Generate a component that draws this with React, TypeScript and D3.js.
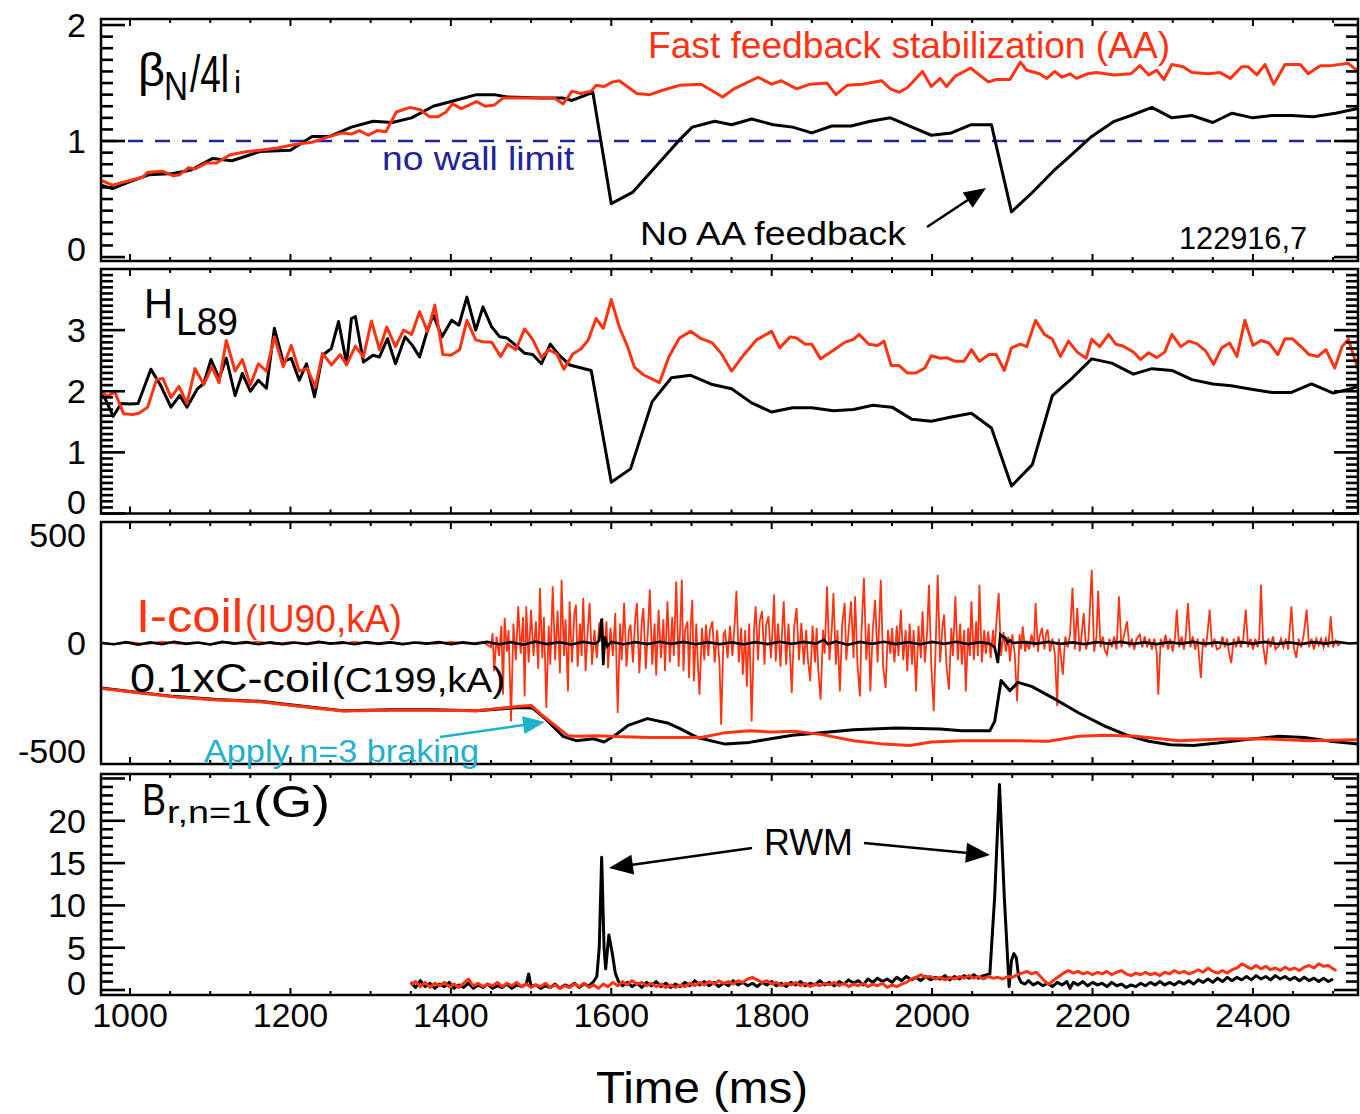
import React from 'react';
import * as d3 from 'd3';

// ---------------- DATA ----------------
// Panel 1: beta_N / 4 l_i
const betaNoAA: [number, number][] = [[964,0.62],[978,0.59],[1000,0.65],[1024,0.71],[1054,0.72],[1076,0.75],[1103,0.85],[1127,0.83],[1162,0.91],[1200,0.92],[1227,1.04],[1249,1.04],[1276,1.12],[1303,1.17],[1327,1.16],[1351,1.2],[1378,1.3],[1405,1.35],[1432,1.4],[1454,1.4],[1470,1.38],[1513,1.37],[1540,1.37],[1551,1.35],[1577,1.42],[1600,0.46],[1627,0.56],[1685,1.01],[1701,1.12],[1729,1.17],[1750,1.14],[1775,1.19],[1802,1.14],[1826,1.12],[1850,1.07],[1875,1.13],[1899,1.13],[1923,1.17],[1948,1.2],[1975,1.12],[1999,1.05],[2024,1.07],[2048,1.14],[2074,1.14],[2099,0.39],[2124,0.55],[2151,0.74],[2175,0.89],[2199,1.04],[2227,1.17],[2248,1.22],[2274,1.29],[2299,1.2],[2324,1.22],[2350,1.16],[2374,1.24],[2400,1.2],[2424,1.22],[2448,1.22],[2475,1.21],[2503,1.24],[2531,1.28]];
const betaAA: [number, number][] = [[964,0.66],[978,0.62],[1000,0.66],[1016,0.69],[1022,0.73],[1040,0.74],[1054,0.7],[1062,0.71],[1073,0.77],[1081,0.76],[1095,0.81],[1108,0.81],[1124,0.88],[1146,0.91],[1162,0.92],[1184,0.94],[1205,0.97],[1227,0.99],[1249,1.04],[1265,1.07],[1276,1.06],[1286,1.09],[1297,1.05],[1308,1.09],[1319,1.08],[1332,1.25],[1349,1.29],[1362,1.27],[1373,1.21],[1384,1.21],[1394,1.25],[1402,1.32],[1413,1.28],[1432,1.34],[1443,1.3],[1454,1.31],[1465,1.37],[1486,1.37],[1513,1.37],[1529,1.37],[1540,1.32],[1551,1.43],[1562,1.41],[1575,1.43],[1581,1.48],[1591,1.47],[1602,1.51],[1610,1.52],[1632,1.41],[1648,1.4],[1665,1.44],[1685,1.48],[1712,1.49],[1739,1.38],[1753,1.45],[1783,1.55],[1800,1.49],[1812,1.52],[1831,1.45],[1848,1.49],[1869,1.5],[1880,1.4],[1894,1.48],[1913,1.49],[1937,1.52],[1948,1.45],[1959,1.42],[1969,1.46],[1988,1.6],[1999,1.47],[2010,1.54],[2018,1.47],[2029,1.56],[2048,1.63],[2070,1.51],[2080,1.53],[2097,1.53],[2110,1.68],[2118,1.61],[2134,1.58],[2143,1.54],[2153,1.6],[2162,1.55],[2172,1.58],[2180,1.54],[2194,1.58],[2205,1.59],[2227,1.57],[2248,1.58],[2259,1.65],[2270,1.57],[2280,1.61],[2289,1.53],[2299,1.66],[2313,1.64],[2324,1.59],[2345,1.58],[2359,1.59],[2372,1.54],[2386,1.64],[2394,1.64],[2405,1.57],[2415,1.66],[2426,1.49],[2440,1.66],[2459,1.66],[2469,1.58],[2484,1.65],[2497,1.65],[2519,1.67],[2531,1.6]];
const noWallLimit = 1;

// Panel 2: H_L89
const hNoAA: [number, number][] = [[964,1.99],[970,1.85],[979,1.59],[989,1.8],[1000,1.79],[1010,1.8],[1026,2.36],[1038,2.1],[1051,1.74],[1062,1.93],[1071,1.74],[1084,2.04],[1092,2.13],[1101,2.52],[1111,2.21],[1120,2.54],[1131,1.93],[1140,2.29],[1150,2.0],[1160,2.18],[1170,2.05],[1180,3.03],[1191,2.48],[1201,2.54],[1211,2.18],[1220,2.45],[1230,1.91],[1240,2.59],[1251,2.7],[1260,3.14],[1270,2.45],[1276,3.19],[1281,3.22],[1291,2.48],[1303,2.59],[1311,2.56],[1321,2.86],[1331,2.45],[1343,2.89],[1352,2.75],[1361,2.56],[1370,2.96],[1378,3.25],[1389,2.89],[1401,3.16],[1410,3.08],[1420,3.54],[1431,3.0],[1440,3.38],[1451,3.05],[1461,2.89],[1470,2.87],[1481,2.75],[1492,2.62],[1502,2.6],[1513,2.45],[1524,2.77],[1535,2.59],[1548,2.43],[1575,2.34],[1600,0.51],[1624,0.73],[1651,1.83],[1675,2.22],[1699,2.26],[1726,2.11],[1750,2.04],[1775,1.81],[1800,1.66],[1826,1.73],[1850,1.73],[1877,1.68],[1902,1.7],[1926,1.77],[1950,1.74],[1975,1.54],[1999,1.51],[2024,1.58],[2049,1.64],[2074,1.4],[2099,0.45],[2125,0.8],[2150,1.93],[2175,2.22],[2199,2.53],[2224,2.46],[2251,2.28],[2274,2.37],[2299,2.34],[2324,2.19],[2350,2.12],[2373,2.09],[2400,2.03],[2424,1.98],[2448,1.98],[2473,2.12],[2500,1.97],[2522,2.04],[2531,2.08]];
const hAA: [number, number][] = [[964,1.99],[972,1.92],[981,1.99],[992,1.63],[1003,1.62],[1011,1.64],[1022,1.74],[1033,2.19],[1041,2.21],[1051,1.9],[1061,2.08],[1071,1.8],[1081,2.37],[1092,2.11],[1102,2.4],[1111,2.14],[1120,2.83],[1131,2.33],[1140,2.52],[1150,2.1],[1160,2.45],[1170,2.33],[1180,2.89],[1191,2.4],[1201,2.75],[1211,2.33],[1221,2.37],[1231,2.07],[1240,2.62],[1251,2.43],[1262,2.6],[1270,2.43],[1281,2.74],[1291,2.56],[1301,3.15],[1311,2.68],[1320,3.05],[1331,2.73],[1341,3.0],[1351,2.93],[1361,3.3],[1371,2.97],[1380,3.41],[1390,2.6],[1400,2.59],[1411,2.68],[1420,3.16],[1431,2.84],[1440,2.81],[1451,2.8],[1462,2.57],[1471,2.77],[1481,2.68],[1492,3.02],[1502,2.85],[1513,2.55],[1522,2.68],[1532,2.61],[1541,2.36],[1552,2.61],[1562,2.69],[1571,2.83],[1581,3.19],[1590,3.03],[1600,3.5],[1610,3.05],[1620,2.74],[1629,2.39],[1640,2.27],[1660,2.14],[1672,2.57],[1685,2.87],[1699,2.98],[1712,2.86],[1726,2.79],[1737,2.62],[1750,2.33],[1766,2.61],[1781,2.84],[1800,2.98],[1810,2.71],[1823,2.89],[1831,2.87],[1842,2.77],[1850,2.77],[1861,2.53],[1877,2.67],[1891,2.8],[1902,2.85],[1909,2.93],[1921,2.77],[1932,2.75],[1940,2.82],[1949,2.42],[1959,2.42],[1969,2.3],[1980,2.3],[1991,2.38],[1999,2.58],[2010,2.54],[2018,2.55],[2029,2.49],[2040,2.49],[2049,2.68],[2059,2.49],[2071,2.6],[2080,2.6],[2090,2.34],[2099,2.71],[2110,2.77],[2118,2.73],[2129,3.16],[2140,2.93],[2150,2.85],[2160,2.57],[2170,2.82],[2181,2.64],[2192,2.54],[2199,2.85],[2209,2.73],[2220,2.93],[2229,2.77],[2238,2.74],[2251,2.64],[2260,2.52],[2270,2.63],[2280,2.55],[2290,2.64],[2299,2.93],[2310,2.73],[2320,2.82],[2330,2.78],[2341,2.66],[2351,2.44],[2361,2.71],[2371,2.79],[2380,2.57],[2390,3.16],[2400,2.75],[2410,2.83],[2420,2.79],[2431,2.6],[2440,2.86],[2449,2.86],[2460,2.73],[2470,2.6],[2481,2.57],[2491,2.68],[2502,2.38],[2511,2.73],[2519,2.85],[2531,2.36]];

// Panel 3: I-coil (IU90, kA) and 0.1 x C-coil (C199, kA)
const iCoilAA: [number, number][] = [[964,0],[980,-6],[1000,4],[1020,-5],[1040,6],[1060,-4],[1080,3],[1100,-7],[1120,5],[1140,-3],[1160,6],[1180,-5],[1200,4],[1220,-6],[1240,3],[1260,-4],[1280,5],[1300,-3],[1320,4],[1340,-5],[1360,3],[1380,-4],[1400,5],[1420,-3],[1440,4],
[1450,-20],[1452,46],[1454,-131],[1457,30],[1460,-60],[1463,80],[1465,-239],[1467,116],[1470,-40],[1472,60],[1475,-363],[1478,90],[1481,-80],[1484,170],[1487,-50],[1490,120],[1492,-247],[1494,170],[1497,-90],[1500,154],[1503,-60],[1506,100],[1509,-120],[1511,255],[1514,-70],[1516,120],[1519,-301],[1522,80],[1524,-100],[1527,262],[1530,-80],[1533,150],[1536,-140],[1538,293],[1541,-60],[1543,110],[1546,-224],[1548,193],[1551,-90],[1554,140],[1556,177],[1558,-110],[1561,90],[1563,-60],[1565,208],[1568,-130],[1571,80],[1573,185],[1576,-100],[1579,60],[1582,-70],[1585,90],[1589,108],[1591,-50],[1594,100],[1596,-116],[1599,70],[1602,-60],[1605,139],[1608,-324],[1611,90],[1613,-80],[1616,185],[1619,-110],[1622,60],[1624,85],[1627,-90],[1630,120],[1632,185],[1635,-140],[1638,100],[1640,162],[1643,-120],[1646,80],[1648,247],[1651,-100],[1654,90],[1656,-150],[1659,154],[1662,-70],[1665,110],[1667,-130],[1670,193],[1673,-90],[1676,120],[1678,-60],[1681,285],[1684,-110],[1686,80],
[1688,293],[1690,-131],[1692,60],[1695,100],[1697,-162],[1699,80],[1701,200],[1703,-177],[1706,90],[1708,-100],[1710,-239],[1713,70],[1716,-80],[1718,85],[1721,-60],[1723,60],[1726,100],[1729,-90],[1732,60],[1735,-100],[1737,-378],[1740,40],[1742,54],[1745,-70],[1748,80],[1751,-60],[1754,100],[1756,242],[1759,-90],[1762,70],[1764,-147],[1767,60],[1769,-201],[1772,90],[1775,-363],[1778,60],[1780,170],[1783,-80],[1785,100],[1788,147],[1791,-100],[1793,80],[1796,123],[1799,-70],[1801,60],[1803,224],[1805,-85],[1808,90],[1811,-110],[1813,60],[1815,193],[1818,-100],[1821,90],[1823,-60],[1825,-231],[1828,70],[1831,162],[1834,-80],[1837,93],[1840,-100],[1843,60],[1845,-70],[1848,-177],[1851,80],[1854,-90],[1856,70],[1858,-120],[1861,-262],[1864,60],[1866,-50],[1869,262],[1872,-80],[1875,70],[1877,231],[1880,-100],[1882,60],[1885,-224],[1888,90],[1891,185],[1893,-80],[1896,60],[1899,193],[1902,-70],[1904,216],[1907,-100],[1910,-247],[1912,60],[1915,301],[1918,-80],[1921,90],[1923,-224],[1926,60],[1929,200],[1932,-90],[1934,80],[1936,293],[1939,-110],[1942,-208],[1945,60],[1948,-50],[1950,69],[1953,-90],[1956,80],[1958,-60],[1961,154],[1964,-80],[1967,60],[1969,-131],[1972,90],[1975,-100],[1977,60],[1980,-224],[1983,80],[1986,-70],[1988,147],[1991,-90],[1994,60],[1996,270],[1999,-100],[2002,-316],[2005,60],[2007,316],[2010,-90],[2013,80],[2015,131],[2018,-110],[2021,-216],[2024,70],[2026,-60],[2029,216],[2032,-80],[2035,90],[2037,-100],[2040,60],[2042,-224],[2045,70],[2047,-60],[2049,193],[2052,-80],[2055,100],[2057,-60],[2059,270],[2062,-90],[2065,60],[2067,-50],[2070,54],[2073,-70],[2076,60],[2078,-40],[2080,90],[2083,231],[2086,-60],[2089,50],[2092,-40],[2095,30],[2097,-85],[2100,40],[2103,-50],[2106,-270],[2109,40],[2111,-30],[2113,77],[2116,-40],[2118,10],[2121,-30],[2124,40],[2127,-20],[2129,185],[2132,-40],[2134,30],[2137,69],[2140,-30],[2142,40],[2144,62],[2147,-40],[2150,20],[2153,-50],[2156,-293],[2158,20],[2160,-40],[2163,-147],[2166,30],[2169,-20],[2172,40],[2175,255],[2178,-30],[2181,162],[2184,-40],[2186,20],[2189,139],[2192,-30],[2195,20],[2199,339],[2202,-40],[2205,30],[2207,242],[2210,-20],[2213,30],[2215,-30],[2218,-54],[2221,20],[2224,-20],[2227,30],[2230,-30],[2233,216],[2236,-20],[2239,30],[2243,100],[2246,-20],[2249,20],[2252,-30],[2255,20],[2259,39],[2262,-20],[2265,30],[2268,-20],[2271,20],[2274,-30],[2277,20],[2280,-40],[2282,-239],[2285,20],[2288,-20],[2291,39],[2294,-30],[2297,20],[2300,-40],[2303,30],[2305,154],[2308,-20],[2311,30],[2314,-30],[2316,20],[2319,185],[2322,-20],[2325,30],[2328,-30],[2331,20],[2335,-162],[2338,20],[2341,-20],[2343,30],[2346,154],[2349,-20],[2352,20],[2355,-30],[2359,-23],[2362,30],[2365,-20],[2368,20],[2370,-40],[2373,-93],[2376,20],[2379,-20],[2382,30],[2385,-20],[2388,20],[2391,154],[2394,-20],[2397,20],[2400,-30],[2403,20],[2406,-20],[2408,30],[2410,270],[2413,-20],[2416,-100],[2419,20],[2422,-20],[2425,30],[2428,-30],[2432,-15],[2435,20],[2438,-20],[2441,20],[2444,-30],[2448,170],[2451,-20],[2454,-69],[2457,20],[2460,-20],[2463,30],[2467,154],[2470,-20],[2473,20],[2476,-30],[2479,20],[2482,-10],[2485,20],[2488,-20],[2491,20],[2494,-20],[2497,123],[2500,-20],[2503,10],[2506,-10],[2510,0]];
const iCoilNoAA: [number, number][] = [[964,0],[980,-6],[995,4],[1010,-8],[1025,3],[1040,-5],[1055,6],[1070,-4],[1085,2],[1100,-7],[1115,5],[1130,-3],[1145,4],[1160,-6],[1175,3],[1190,-5],[1205,2],[1220,-4],[1235,5],[1250,-3],[1265,3],[1280,-6],[1295,4],[1310,-4],[1325,3],[1340,-5],[1355,2],[1370,-3],[1385,4],[1400,-5],[1415,3],[1430,-4],[1445,5],[1460,-6],[1475,4],[1490,-8],[1505,6],[1520,-5],[1535,4],[1550,-7],[1565,5],[1580,-4],[1585,10],[1588,113],[1590,-103],[1592,30],[1595,-15],[1600,5],[1615,-6],[1630,4],[1645,-5],[1660,6],[1675,-4],[1690,5],[1705,-6],[1720,4],[1735,-5],[1750,3],[1765,-6],[1780,4],[1795,-5],[1810,6],[1825,-4],[1840,5],[1855,-3],[1865,15],[1870,-5],[1880,6],[1895,-8],[1910,5],[1925,-4],[1940,6],[1955,-5],[1970,4],[1985,-6],[2000,5],[2015,-4],[2030,6],[2045,-5],[2060,4],[2072,-3],[2078,-20],[2082,-93],[2085,39],[2088,30],[2091,25],[2094,2],[2097,12],[2100,0],[2115,4],[2130,-3],[2145,5],[2160,-4],[2175,3],[2190,-5],[2205,4],[2220,-3],[2235,5],[2250,-4],[2265,3],[2280,-5],[2295,4],[2310,-3],[2325,5],[2340,-4],[2355,3],[2370,-5],[2385,4],[2400,-3],[2415,5],[2430,-4],[2445,3],[2460,-5],[2475,4],[2490,-3],[2505,5],[2520,-2],[2531,0]];
const cCoilNoAA: [number, number][] = [[964,-208],[1000,-224],[1054,-247],[1108,-262],[1162,-270],[1216,-293],[1265,-313],[1324,-309],[1378,-309],[1432,-313],[1486,-298],[1502,-301],[1519,-355],[1540,-432],[1556,-452],[1578,-443],[1591,-458],[1605,-427],[1621,-381],[1645,-350],[1670,-370],[1685,-395],[1707,-437],[1742,-468],[1772,-460],[1799,-443],[1826,-427],[1858,-417],[1902,-401],[1956,-393],[2010,-398],[2037,-406],[2072,-406],[2078,-363],[2086,-174],[2097,-221],[2107,-182],[2124,-201],[2151,-255],[2183,-324],[2216,-386],[2243,-427],[2270,-455],[2297,-471],[2326,-474],[2356,-463],[2389,-448],[2432,-432],[2464,-437],[2497,-455],[2531,-468]];
const cCoilAA: [number, number][] = [[964,-210],[1000,-226],[1054,-249],[1108,-264],[1162,-272],[1216,-295],[1265,-315],[1324,-311],[1378,-311],[1432,-314],[1486,-293],[1500,-289],[1513,-332],[1546,-429],[1556,-432],[1583,-429],[1605,-433],[1648,-437],[1685,-437],[1712,-437],[1739,-417],[1772,-406],[1799,-412],[1831,-409],[1863,-424],[1902,-452],[1940,-468],[1972,-474],[1999,-458],[2037,-452],[2091,-452],[2145,-455],[2183,-432],[2216,-427],[2254,-432],[2308,-452],[2362,-444],[2416,-443],[2470,-452],[2531,-448]];

// Panel 4: B_r, n=1 (G)
const brNoAA: [number, number][] = [[1350,0.9],[1356,0.3],[1362,1.1],[1368,0.4],[1374,0.8],[1380,0.2],[1386,0.7],[1392,0.4],[1398,0.9],[1404,0.2],[1410,0.6],[1416,0.3],[1422,0.8],[1428,0.2],[1434,0.6],[1440,0.3],[1446,0.7],[1452,0.2],[1458,0.5],[1464,0.3],[1470,0.7],[1476,0.2],[1482,0.6],[1488,0.4],[1494,0.7],[1497,1.9],[1500,0.4],[1506,0.6],[1512,0.2],[1518,0.5],[1524,0.3],[1530,0.7],[1536,0.2],[1542,0.6],[1548,0.4],[1554,0.8],[1560,0.3],[1566,0.7],[1572,0.5],[1578,1.0],[1582,1.6],[1585,5],[1588,15.7],[1591,5],[1593,2.5],[1597,6.5],[1601,4.5],[1605,2],[1609,1.0],[1614,0.5],[1620,0.9],[1626,0.4],[1632,0.8],[1638,0.3],[1644,0.9],[1650,0.5],[1656,1.0],[1662,0.4],[1668,0.8],[1674,0.3],[1680,0.7],[1686,0.4],[1692,0.9],[1698,0.5],[1704,1.1],[1710,0.6],[1716,1.0],[1722,0.5],[1728,0.9],[1734,0.4],[1740,0.8],[1746,0.5],[1752,1.1],[1758,0.6],[1764,0.9],[1770,0.5],[1776,0.8],[1782,0.4],[1788,0.9],[1794,0.6],[1800,1.0],[1806,0.5],[1812,0.8],[1818,0.4],[1824,0.9],[1830,0.6],[1836,1.0],[1842,0.5],[1848,0.8],[1854,0.6],[1860,1.1],[1866,0.6],[1872,0.9],[1878,0.5],[1884,1.0],[1890,0.7],[1896,1.2],[1902,0.8],[1908,1.1],[1914,0.6],[1920,1.3],[1926,0.9],[1932,1.4],[1938,1.0],[1944,1.3],[1950,0.9],[1956,1.5],[1962,1.1],[1968,1.6],[1974,1.2],[1980,1.5],[1986,1.1],[1992,1.6],[1998,1.2],[2004,1.5],[2010,1.3],[2016,1.7],[2022,1.2],[2028,1.6],[2034,1.3],[2040,1.7],[2046,1.4],[2052,1.8],[2058,1.4],[2064,1.7],[2072,1.9],[2078,11],[2084,24.3],[2090,11],[2096,0.4],[2099,3.5],[2102,4.3],[2105,3.8],[2108,1.5],[2111,0.9],[2116,0.7],[2120,1.1],[2126,0.6],[2132,0.9],[2138,0.5],[2144,0.8],[2150,0.4],[2156,0.9],[2162,0.6],[2168,1.0],[2172,0.2],[2176,0.9],[2182,0.6],[2188,1.0],[2194,0.5],[2200,0.9],[2206,0.6],[2212,0.8],[2218,0.4],[2224,0.9],[2230,0.5],[2236,0.7],[2242,0.3],[2248,0.6],[2254,0.4],[2260,0.8],[2266,0.5],[2272,0.9],[2278,0.6],[2284,1.0],[2290,0.6],[2296,0.9],[2302,0.6],[2308,1.0],[2314,0.7],[2320,1.1],[2326,0.7],[2332,1.2],[2338,0.9],[2344,1.3],[2350,0.9],[2356,1.4],[2362,1.0],[2368,1.5],[2374,1.1],[2380,1.5],[2386,1.2],[2392,1.6],[2398,1.2],[2404,1.7],[2410,1.3],[2416,1.6],[2422,1.2],[2428,1.7],[2434,1.3],[2440,1.6],[2446,1.2],[2452,1.5],[2458,1.1],[2464,1.5],[2470,1.1],[2476,1.4],[2482,1.0],[2488,1.4],[2494,1.0],[2500,1.3]];
const brAA: [number, number][] = [[1350,0.6],[1356,1.0],[1362,0.4],[1368,0.9],[1374,0.3],[1380,0.8],[1386,0.5],[1392,0.9],[1398,0.4],[1404,0.7],[1410,0.3],[1416,0.8],[1422,1.3],[1428,0.5],[1434,0.8],[1440,0.4],[1446,0.7],[1452,0.5],[1458,0.9],[1464,0.4],[1470,0.8],[1476,0.5],[1482,0.9],[1488,0.4],[1494,0.7],[1500,0.3],[1506,0.6],[1512,0.4],[1518,0.8],[1524,0.3],[1530,0.6],[1536,0.2],[1542,0.5],[1548,0.3],[1554,0.7],[1560,0.4],[1566,0.8],[1572,0.3],[1578,0.6],[1584,0.2],[1590,0.7],[1596,0.4],[1602,0.9],[1608,0.5],[1614,1.0],[1620,0.6],[1626,1.1],[1632,0.7],[1638,0.9],[1644,0.5],[1650,0.8],[1656,0.4],[1662,0.7],[1668,0.3],[1674,0.6],[1680,0.3],[1686,0.6],[1692,0.4],[1698,0.8],[1704,0.5],[1710,0.9],[1716,0.6],[1722,1.0],[1728,0.7],[1734,1.1],[1740,0.8],[1746,1.0],[1752,0.7],[1758,1.1],[1764,0.9],[1770,1.3],[1776,1.5],[1782,1.2],[1788,0.9],[1794,1.1],[1800,0.7],[1806,0.9],[1812,0.5],[1818,0.8],[1824,0.6],[1830,0.9],[1836,0.5],[1842,0.8],[1848,0.4],[1854,0.7],[1860,0.5],[1866,0.8],[1872,0.6],[1878,0.9],[1884,0.5],[1890,0.8],[1896,0.4],[1902,0.7],[1908,0.5],[1914,0.8],[1920,0.4],[1926,0.7],[1932,0.5],[1938,0.8],[1944,0.3],[1950,0.6],[1956,0.4],[1962,0.7],[1968,0.9],[1974,1.3],[1980,1.5],[1986,1.8],[1992,1.5],[1998,1.6],[2004,1.3],[2010,1.5],[2016,1.2],[2022,1.5],[2028,1.3],[2034,1.6],[2040,1.4],[2046,1.7],[2052,1.4],[2058,1.6],[2064,1.3],[2070,1.6],[2076,1.4],[2082,1.5],[2088,1.3],[2094,1.6],[2100,1.5],[2106,1.8],[2112,2.0],[2118,2.2],[2124,1.9],[2130,2.1],[2136,1.5],[2142,0.9],[2146,0.7],[2152,1.2],[2158,1.6],[2164,2.0],[2170,2.3],[2176,2.0],[2182,2.2],[2188,1.9],[2194,2.1],[2200,1.8],[2206,2.1],[2212,1.9],[2218,2.2],[2224,1.8],[2230,2.1],[2236,2.3],[2242,1.9],[2248,1.7],[2254,2.0],[2260,1.8],[2266,2.1],[2272,1.8],[2278,2.0],[2284,1.7],[2290,2.1],[2296,1.9],[2302,2.3],[2308,2.0],[2314,2.2],[2320,1.9],[2326,2.1],[2332,2.4],[2338,2.1],[2344,2.6],[2350,2.2],[2356,2.0],[2362,2.3],[2368,2.0],[2374,2.4],[2380,2.6],[2386,3.1],[2392,2.8],[2398,2.5],[2404,2.9],[2410,2.5],[2416,2.8],[2422,2.4],[2428,2.6],[2434,2.3],[2440,2.7],[2446,2.4],[2452,2.6],[2458,2.3],[2464,2.7],[2470,2.9],[2476,2.6],[2482,3.1],[2488,2.8],[2494,2.9],[2500,2.5],[2504,2.3]];

// Tick labels
const xTickLabels = [1000, 1200, 1400, 1600, 1800, 2000, 2200, 2400];
const p1Labels = [0, 1, 2];
const p2Labels = [0, 1, 2, 3];
const p3Labels = [-500, 0, 500];
const p4Labels = [0, 5, 10, 15, 20];

// ---------------- LAYOUT / STYLE ----------------
const W = 1360, H = 1114;
const FONT = "'Liberation Sans', Arial, Helvetica, sans-serif";
const RED = '#ff3311';
const NAVY = '#22229a';
const CYAN = '#1eb0cc';
const X_LEFT = 101, X_RIGHT = 1358;
const x = d3.scaleLinear().domain([963.8, 2531]).range([X_LEFT, X_RIGHT]);

type Panel = {
  id: string; top: number; bottom: number; domain: [number, number];
  labels: number[]; minor: number; major: number; tMin: number; tMax: number; yTicks: boolean;
};
const panels: Panel[] = [
  { id: 'p1', top: 19, bottom: 261, domain: [-0.034, 2.052], labels: p1Labels, minor: 0.1, major: 1, tMin: 0, tMax: 2, yTicks: true },
  { id: 'p2', top: 269, bottom: 513.5, domain: [0, 4.0], labels: p2Labels, minor: 0.1, major: 1, tMin: 0, tMax: 4, yTicks: true },
  { id: 'p3', top: 522, bottom: 764, domain: [-560, 560], labels: p3Labels, minor: 100, major: 500, tMin: -500, tMax: 500, yTicks: false },
  { id: 'p4', top: 774, bottom: 995, domain: [-0.59, 25.53], labels: p4Labels, minor: 1, major: 5, tMin: 0, tMax: 25, yTicks: true },
];
const yScale = (p: Panel) => d3.scaleLinear().domain(p.domain).range([p.bottom, p.top]);

const lineGen = (ys: d3.ScaleLinear<number, number>) =>
  d3.line<[number, number]>().x((d) => x(d[0])).y((d) => ys(d[1]));

function Arrow({ x1, y1, x2, y2, color, len = 22, half = 9, sw = 2.5 }:
  { x1: number; y1: number; x2: number; y2: number; color: string; len?: number; half?: number; sw?: number }) {
  const dx = x2 - x1, dy = y2 - y1;
  const L = Math.hypot(dx, dy);
  const ux = dx / L, uy = dy / L;
  const bx = x2 - ux * len, by = y2 - uy * len;
  const px = -uy, py = ux;
  const pts = `${x2},${y2} ${bx + px * half},${by + py * half} ${bx - px * half},${by - py * half}`;
  return (
    <g>
      <line x1={x1} y1={y1} x2={bx + ux * 2} y2={by + uy * 2} stroke={color} strokeWidth={sw} />
      <polygon points={pts} fill={color} />
    </g>
  );
}

function PanelFrame({ p }: { p: Panel }) {
  const ys = yScale(p);
  const xt = d3.range(1000, 2501, 50);
  const yt = p.yTicks ? d3.range(p.tMin, p.tMax + p.minor / 2, p.minor) : [];
  const isMajorY = (v: number) => Math.abs(v / p.major - Math.round(v / p.major)) < 1e-6;
  return (
    <g>
      {xt.map((t) => {
        const major = t % 200 === 0;
        const len = major ? 7 : 4;
        return (
          <g key={`xt${t}`}>
            <line x1={x(t)} x2={x(t)} y1={p.top} y2={p.top + len} stroke="#000" strokeWidth={2} />
            <line x1={x(t)} x2={x(t)} y1={p.bottom} y2={p.bottom - len} stroke="#000" strokeWidth={2} />
          </g>
        );
      })}
      {yt.map((v, i) => {
        const major = isMajorY(v);
        const len = major ? 24 : 12;
        const yy = ys(v);
        if (yy < p.top + 1 || yy > p.bottom) return null;
        return (
          <g key={`yt${i}`}>
            <line x1={X_LEFT} x2={X_LEFT + len} y1={yy} y2={yy} stroke="#000" strokeWidth={2.6} />
            <line x1={X_RIGHT} x2={X_RIGHT - len} y1={yy} y2={yy} stroke="#000" strokeWidth={2.6} />
          </g>
        );
      })}
      <rect x={X_LEFT} y={p.top} width={X_RIGHT - X_LEFT} height={p.bottom - p.top} fill="none" stroke="#000" strokeWidth={2.5} />
      {p.labels.map((v) => (
        <text key={`yl${v}`} x={86} y={Math.min(ys(v), p.bottom - 12) + 12} fontSize={34} textAnchor="end" fontFamily={FONT}>
          {v}
        </text>
      ))}
    </g>
  );
}

export default function App() {
  const [p1, p2, p3, p4] = panels;
  const y1 = yScale(p1), y2 = yScale(p2), y3 = yScale(p3), y4 = yScale(p4);
  return (
    <svg width={W} height={H} viewBox={`0 0 ${W} ${H}`} style={{ position: 'absolute', left: 0, top: 0, background: '#fff' }} fontFamily={FONT}>
      <rect x={0} y={0} width={W} height={H} fill="#fff" />
      <defs>
        {panels.map((p) => (
          <clipPath id={`clip-${p.id}`} key={p.id}>
            <rect x={X_LEFT} y={p.top} width={X_RIGHT - X_LEFT} height={p.bottom - p.top} />
          </clipPath>
        ))}
      </defs>

      {/* Panel 1 */}
      <g clipPath="url(#clip-p1)">
        <line x1={X_LEFT} x2={X_RIGHT} y1={y1(noWallLimit)} y2={y1(noWallLimit)} stroke={NAVY} strokeWidth={2.4} strokeDasharray="15 12" />
        <path d={lineGen(y1)(betaNoAA) || ''} fill="none" stroke="#000" strokeWidth={3} strokeLinejoin="round" />
        <path d={lineGen(y1)(betaAA) || ''} fill="none" stroke={RED} strokeWidth={3} strokeLinejoin="round" />
      </g>
      {/* Panel 2 */}
      <g clipPath="url(#clip-p2)">
        <path d={lineGen(y2)(hNoAA) || ''} fill="none" stroke="#000" strokeWidth={3} strokeLinejoin="round" />
        <path d={lineGen(y2)(hAA) || ''} fill="none" stroke={RED} strokeWidth={3} strokeLinejoin="round" />
      </g>
      {/* Panel 3 */}
      <g clipPath="url(#clip-p3)">
        <path d={lineGen(y3)(iCoilAA) || ''} fill="none" stroke={RED} strokeWidth={1.8} />
        <path d={lineGen(y3)(iCoilNoAA) || ''} fill="none" stroke="#000" strokeWidth={2.6} />
        <path d={lineGen(y3)(cCoilNoAA) || ''} fill="none" stroke="#000" strokeWidth={3} strokeLinejoin="round" />
        <path d={lineGen(y3)(cCoilAA) || ''} fill="none" stroke={RED} strokeWidth={3} strokeLinejoin="round" />
      </g>
      {/* Panel 4 */}
      <g clipPath="url(#clip-p4)">
        <path d={lineGen(y4)(brNoAA) || ''} fill="none" stroke="#000" strokeWidth={3} strokeLinejoin="round" />
        <path d={lineGen(y4)(brAA) || ''} fill="none" stroke={RED} strokeWidth={3} strokeLinejoin="round" />
      </g>

      {panels.map((p) => <PanelFrame key={p.id} p={p} />)}

      {/* x tick labels */}
      {xTickLabels.map((t) => (
        <text key={`xl${t}`} x={x(t)} y={1027} fontSize={34} textAnchor="middle">{t}</text>
      ))}
      <text x={596} y={1103} fontSize={45} textLength={212} lengthAdjust="spacingAndGlyphs">Time (ms)</text>

      {/* Panel 1 annotations */}
      <text x={138} y={86} fontSize={47}>β</text>
      <text x={164} y={100} fontSize={40} textLength={24} lengthAdjust="spacingAndGlyphs">N</text>
      <text x={190} y={92} fontSize={52} textLength={39} lengthAdjust="spacingAndGlyphs">/4l</text>
      <text x={234} y={93} fontSize={32}>i</text>
      <text x={648} y={58} fontSize={36} fill={RED} textLength={522} lengthAdjust="spacingAndGlyphs">Fast feedback stabilization (AA)</text>
      <text x={382} y={170} fontSize={34} fill={NAVY} textLength={192} lengthAdjust="spacingAndGlyphs">no wall limit</text>
      <text x={640} y={245} fontSize={34} textLength={266} lengthAdjust="spacingAndGlyphs">No AA feedback</text>
      <text x={1179} y={249} fontSize={31} textLength={128} lengthAdjust="spacingAndGlyphs">122916,7</text>
      <Arrow x1={927} y1={227} x2={986} y2={188} color="#000" len={22} half={9} sw={2.5} />

      {/* Panel 2 title */}
      <text x={144} y={318} fontSize={42} textLength={29} lengthAdjust="spacingAndGlyphs">H</text>
      <text x={176} y={335} fontSize={38} textLength={62} lengthAdjust="spacingAndGlyphs">L89</text>

      {/* Panel 3 annotations */}
      <text x={136} y={632} fontSize={47} fill={RED} textLength={107} lengthAdjust="spacingAndGlyphs">I-coil</text>
      <text x={245} y={632} fontSize={39} fill={RED} textLength={157} lengthAdjust="spacingAndGlyphs">(IU90,kA)</text>
      <text x={130} y={692} fontSize={41} textLength={200} lengthAdjust="spacingAndGlyphs">0.1xC-coil</text>
      <text x={332} y={692} fontSize={35} textLength={173} lengthAdjust="spacingAndGlyphs">(C199,kA)</text>
      <text x={204} y={762} fontSize={31} fill={CYAN} textLength={275} lengthAdjust="spacingAndGlyphs">Apply n=3 braking</text>
      <Arrow x1={440} y1={737} x2={545} y2={722} color={CYAN} len={22} half={9} sw={2.5} />

      {/* Panel 4 annotations */}
      <text x={142} y={815} fontSize={44} textLength={24} lengthAdjust="spacingAndGlyphs">B</text>
      <text x={167} y={823} fontSize={32} textLength={85} lengthAdjust="spacingAndGlyphs">r,n=1</text>
      <text x={253} y={817} fontSize={44} textLength={77} lengthAdjust="spacingAndGlyphs">(G)</text>
      <text x={764} y={855} fontSize={36} textLength={89} lengthAdjust="spacingAndGlyphs">RWM</text>
      <Arrow x1={752} y1={848} x2={609} y2={868} color="#000" len={24} half={10} sw={2.5} />
      <Arrow x1={864} y1={843} x2={990} y2={855} color="#000" len={24} half={10} sw={2.5} />
    </svg>
  );
}
